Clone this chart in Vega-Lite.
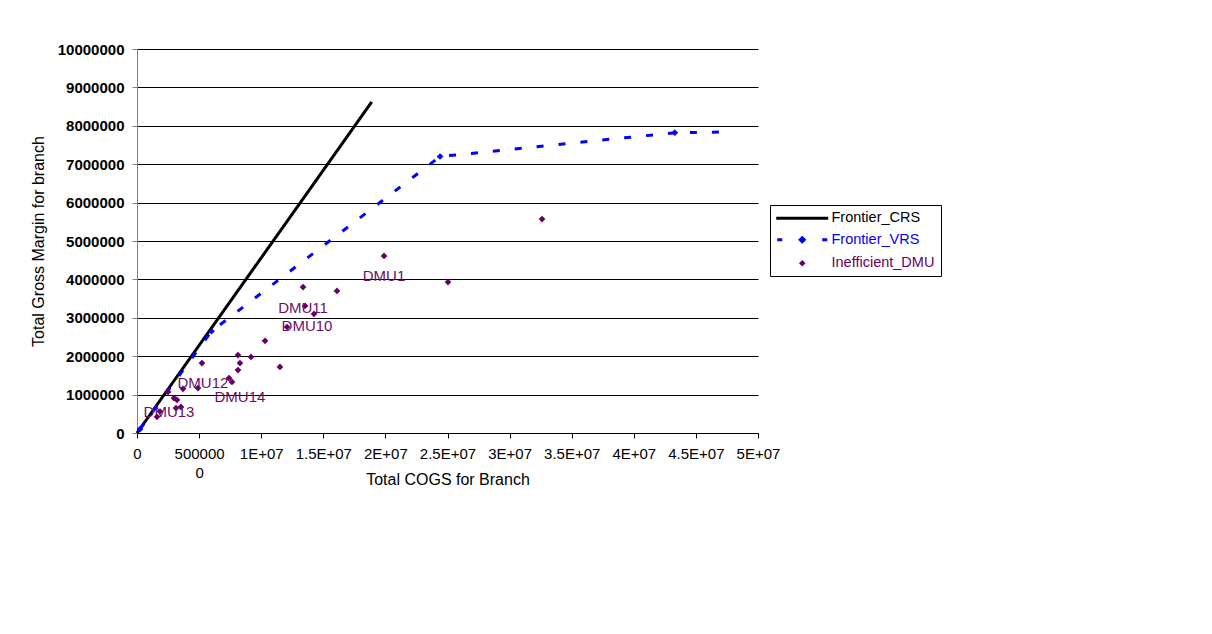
{
  "$schema": "https://vega.github.io/schema/vega-lite/v6.json",
  "width": 621,
  "height": 384,
  "autosize": {"type": "none"},
  "padding": {"left": 137, "top": 49, "right": 454, "bottom": 201},
  "background": "white",
  "config": {"view": {"stroke": null}, "font": "Liberation Sans"},
  "datasets": {
    "crs": [
      {"series": "Frontier_CRS", "cogs": 0, "gm": 0},
      {"series": "Frontier_CRS", "cogs": 18900000, "gm": 8620000}
    ],
    "vrs": [
      {"series": "Frontier_VRS", "cogs": 240000, "gm": 100000, "marker": true},
      {"series": "Frontier_VRS", "cogs": 6000000, "gm": 2650000, "marker": true},
      {"series": "Frontier_VRS", "cogs": 24400000, "gm": 7200000, "marker": true},
      {"series": "Frontier_VRS", "cogs": 43300000, "gm": 7820000, "marker": true},
      {"series": "Frontier_VRS", "cogs": 47700000, "gm": 7840000, "marker": false}
    ],
    "dmu": [
      {"series": "Inefficient_DMU", "cogs": 1610000, "gm": 420000},
      {"series": "Inefficient_DMU", "cogs": 1850000, "gm": 560000},
      {"series": "Inefficient_DMU", "cogs": 2500000, "gm": 1070000},
      {"series": "Inefficient_DMU", "cogs": 2980000, "gm": 910000},
      {"series": "Inefficient_DMU", "cogs": 3220000, "gm": 860000},
      {"series": "Inefficient_DMU", "cogs": 3140000, "gm": 650000},
      {"series": "Inefficient_DMU", "cogs": 3540000, "gm": 680000},
      {"series": "Inefficient_DMU", "cogs": 3700000, "gm": 1150000},
      {"series": "Inefficient_DMU", "cogs": 4910000, "gm": 1170000},
      {"series": "Inefficient_DMU", "cogs": 5230000, "gm": 1820000},
      {"series": "Inefficient_DMU", "cogs": 7410000, "gm": 1430000},
      {"series": "Inefficient_DMU", "cogs": 7650000, "gm": 1330000},
      {"series": "Inefficient_DMU", "cogs": 8130000, "gm": 1640000},
      {"series": "Inefficient_DMU", "cogs": 8290000, "gm": 1820000},
      {"series": "Inefficient_DMU", "cogs": 8130000, "gm": 2030000},
      {"series": "Inefficient_DMU", "cogs": 9180000, "gm": 1980000},
      {"series": "Inefficient_DMU", "cogs": 10310000, "gm": 2400000},
      {"series": "Inefficient_DMU", "cogs": 11510000, "gm": 1720000},
      {"series": "Inefficient_DMU", "cogs": 12080000, "gm": 2760000},
      {"series": "Inefficient_DMU", "cogs": 13370000, "gm": 3800000},
      {"series": "Inefficient_DMU", "cogs": 13530000, "gm": 3310000},
      {"series": "Inefficient_DMU", "cogs": 14250000, "gm": 3100000},
      {"series": "Inefficient_DMU", "cogs": 16100000, "gm": 3700000},
      {"series": "Inefficient_DMU", "cogs": 19890000, "gm": 4610000},
      {"series": "Inefficient_DMU", "cogs": 25040000, "gm": 3930000},
      {"series": "Inefficient_DMU", "cogs": 32610000, "gm": 5570000}
    ],
    "labels": [
      {"label": "DMU1", "cogs": 19890000, "gm": 4090000},
      {"label": "DMU11", "cogs": 13370000, "gm": 3260000},
      {"label": "DMU10", "cogs": 13690000, "gm": 2790000},
      {"label": "DMU12", "cogs": 5310000, "gm": 1300000},
      {"label": "DMU14", "cogs": 8290000, "gm": 940000},
      {"label": "DMU13", "cogs": 2580000, "gm": 550000}
    ]
  },
  "encoding": {
    "x": {
      "field": "cogs", "type": "quantitative",
      "scale": {"domain": [0, 50000000], "nice": false, "zero": true},
      "axis": {
        "title": "Total COGS for Branch",
        "values": [0, 5000000, 10000000, 15000000, 20000000, 25000000, 30000000, 35000000, 40000000, 45000000, 50000000],
        "labelExpr": "datum.value == 0 ? '0' : datum.value == 5000000 ? ['500000', '0'] : format(datum.value / 10000000, '') + 'E+07'",
        "grid": false,
        "domainColor": "#000000",
        "tickColor": "#000000",
        "tickSize": 5,
        "labelPadding": 8,
        "labelFontSize": 15,
        "labelColor": "#000000",
        "labelLineHeight": 19,
        "labelFlush": false,
        "labelOverlap": false,
        "titleFontSize": 16,
        "titleFontWeight": "normal",
        "titleColor": "#000000",
        "titleY": 38,
        "titleBaseline": "top"
      }
    },
    "y": {
      "field": "gm", "type": "quantitative",
      "scale": {"domain": [0, 10000000], "nice": false},
      "axis": {
        "title": "Total Gross Margin for branch",
        "values": [0, 1000000, 2000000, 3000000, 4000000, 5000000, 6000000, 7000000, 8000000, 9000000, 10000000],
        "format": "d",
        "grid": true,
        "gridColor": "#000000",
        "gridOpacity": 1,
        "gridWidth": 1,
        "domainColor": "#808080",
        "tickColor": "#808080",
        "tickSize": 5,
        "labelPadding": 8,
        "labelFontSize": 15,
        "labelFontWeight": "bold",
        "labelColor": "#000000",
        "labelOverlap": false,
        "labelFlush": false,
        "titleFontSize": 16,
        "titleFontWeight": "normal",
        "titleColor": "#000000",
        "titlePadding": 11
      }
    }
  },
  "layer": [
    {
      "data": {"name": "crs"},
      "mark": {"type": "line", "strokeWidth": 3, "strokeCap": "butt"},
      "encoding": {
        "color": {
          "field": "series", "type": "nominal",
          "scale": {"domain": ["Frontier_CRS", "Frontier_VRS", "Inefficient_DMU"], "range": ["#000000", "#0000ff", "#660066"]},
          "legend": {
            "title": null,
            "orient": "none",
            "legendX": 633,
            "legendY": 156,
            "strokeColor": "#000000",
            "fillColor": "#ffffff",
            "padding": 6,
            "labelFont": "Liberation Sans",
            "labelFontSize": 14.5,
            "rowPadding": 6.5,
            "symbolSize": 100,
            "symbolOffset": 19,
            "labelOffset": 22,
            "encode": {
              "symbols": {
                "update": {
                  "shape": {"signal": "datum.value === 'Frontier_CRS' ? 'M-5.2,0H5.2' : datum.value === 'Frontier_VRS' ? 'M-5,0H-4M4,0H5M0,-0.4L0.4,0L0,0.4L-0.4,0Z' : 'M0,-0.65L0.65,0L0,0.65L-0.65,0Z'"},
                  "stroke": {"signal": "datum.value === 'Frontier_CRS' ? '#000000' : datum.value === 'Frontier_VRS' ? '#0000ff' : '#660066'"},
                  "fill": {"signal": "datum.value === 'Frontier_CRS' ? '#000000' : datum.value === 'Frontier_VRS' ? '#0000ff' : '#660066'"},
                  "strokeWidth": {"signal": "datum.value === 'Inefficient_DMU' ? 0 : 3"},
                  "opacity": {"value": 1},
                  "fillOpacity": {"value": 1},
                  "strokeOpacity": {"value": 1}
                }
              },
              "labels": {
                "update": {
                  "fill": {"signal": "datum.value === 'Frontier_CRS' ? '#000000' : datum.value === 'Frontier_VRS' ? '#0000ff' : '#660066'"}
                }
              }
            }
          }
        }
      }
    },
    {
      "data": {"name": "vrs"},
      "mark": {"type": "line", "strokeWidth": 3, "strokeDash": [7, 15], "strokeCap": "butt"},
      "encoding": {"color": {"field": "series", "type": "nominal"}}
    },
    {
      "data": {"name": "vrs"},
      "transform": [{"filter": "datum.marker"}],
      "mark": {"type": "point", "shape": "diamond", "filled": true, "size": 45, "opacity": 1},
      "encoding": {"color": {"field": "series", "type": "nominal"}}
    },
    {
      "data": {"name": "dmu"},
      "mark": {"type": "point", "shape": "diamond", "filled": true, "size": 45, "opacity": 1},
      "encoding": {"color": {"field": "series", "type": "nominal"}}
    },
    {
      "data": {"name": "labels"},
      "mark": {"type": "text", "fontSize": 15, "font": "Liberation Sans", "color": "#6a106a", "align": "center", "baseline": "middle"},
      "encoding": {"text": {"field": "label", "type": "nominal"}}
    }
  ]
}
